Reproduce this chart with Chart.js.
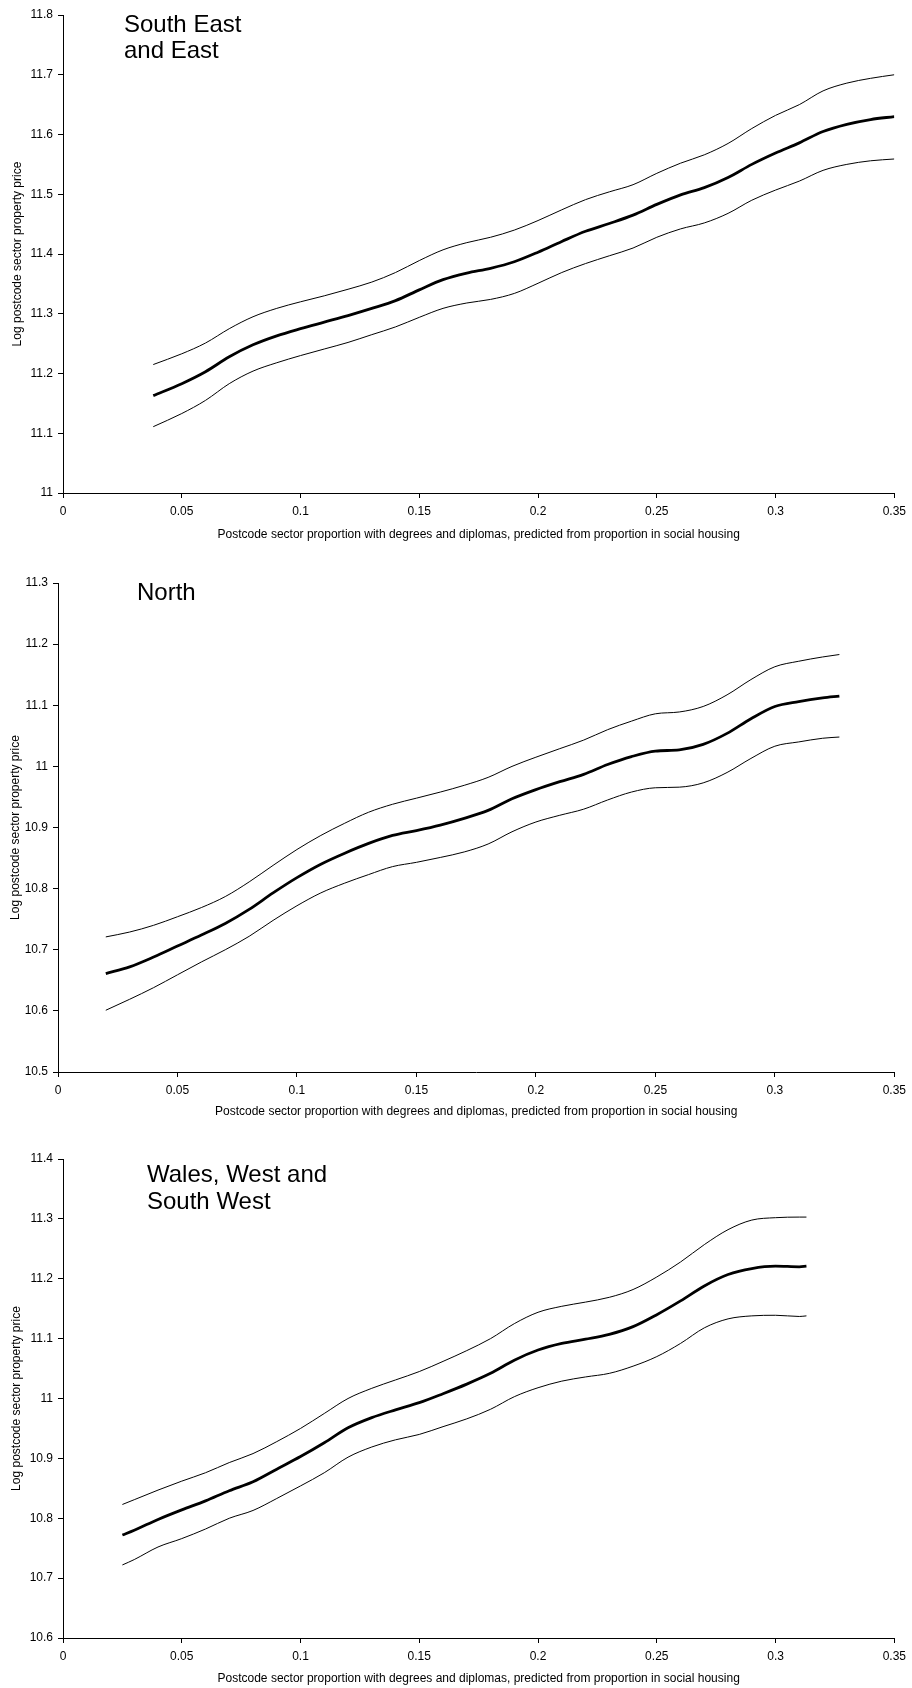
<!DOCTYPE html>
<html>
<head>
<meta charset="utf-8">
<script src="https://cdn.jsdelivr.net/npm/chart.js@4.4.1/dist/chart.umd.min.js"></script>
<style>
  html, body { margin: 0; padding: 0; background: #fff; }
  #page { position: relative; width: 912px; height: 1688px; }
  canvas { position: absolute; left: 0; }
</style>
</head>
<body>
<div id="page">
  <canvas id="southEast" width="912" height="560" style="top:0px"></canvas>
  <canvas id="north" width="912" height="565" style="top:560px"></canvas>
  <canvas id="wales" width="912" height="563" style="top:1125px"></canvas>
</div>
<script>
// South East and East
const seX = [0.038, 0.05, 0.06, 0.07, 0.08, 0.09, 0.10, 0.11, 0.12, 0.13, 0.14, 0.15, 0.16, 0.17, 0.18, 0.19,
  0.20, 0.21, 0.22, 0.23, 0.24, 0.25, 0.26, 0.27, 0.28, 0.29, 0.30, 0.31, 0.32, 0.33, 0.34, 0.35];
const seMid = [11.163, 11.183, 11.203, 11.228, 11.248, 11.263, 11.275, 11.286, 11.297, 11.309, 11.322, 11.340,
  11.357, 11.368, 11.376, 11.387, 11.403, 11.421, 11.438, 11.451, 11.465, 11.483, 11.499, 11.511, 11.528,
  11.550, 11.569, 11.586, 11.605, 11.617, 11.625, 11.630];
const seUpper = [11.215, 11.233, 11.251, 11.275, 11.295, 11.309, 11.320, 11.330, 11.341, 11.353, 11.369, 11.389,
  11.407, 11.419, 11.428, 11.440, 11.456, 11.474, 11.491, 11.504, 11.516, 11.535, 11.552, 11.566, 11.585,
  11.610, 11.632, 11.650, 11.673, 11.686, 11.694, 11.700];
const seLower = [11.111, 11.133, 11.155, 11.183, 11.204, 11.218, 11.230, 11.241, 11.252, 11.265, 11.278, 11.294,
  11.309, 11.318, 11.324, 11.334, 11.351, 11.369, 11.384, 11.397, 11.410, 11.428, 11.442, 11.452, 11.468,
  11.490, 11.507, 11.522, 11.540, 11.550, 11.556, 11.559];

// North
const nX = [0.02, 0.03, 0.04, 0.05, 0.06, 0.07, 0.08, 0.09, 0.10, 0.11, 0.12, 0.13, 0.14, 0.15, 0.16, 0.17,
  0.18, 0.19, 0.20, 0.21, 0.22, 0.23, 0.24, 0.25, 0.26, 0.27, 0.28, 0.29, 0.30, 0.31, 0.32, 0.327];
const nMid = [10.661, 10.672, 10.688, 10.706, 10.724, 10.743, 10.766, 10.793, 10.818, 10.840, 10.858, 10.874,
  10.887, 10.895, 10.904, 10.915, 10.928, 10.947, 10.962, 10.975, 10.987, 11.003, 11.016, 11.025, 11.027,
  11.036, 11.054, 11.078, 11.098, 11.106, 11.112, 11.115];
const nUpper = [10.721, 10.729, 10.740, 10.754, 10.769, 10.787, 10.811, 10.838, 10.864, 10.887, 10.907, 10.925,
  10.938, 10.948, 10.958, 10.969, 10.982, 11.000, 11.015, 11.029, 11.043, 11.060, 11.074, 11.086, 11.089,
  11.098, 11.117, 11.142, 11.163, 11.172, 11.179, 11.183];
const nLower = [10.601, 10.619, 10.638, 10.659, 10.680, 10.700, 10.722, 10.748, 10.772, 10.793, 10.809, 10.823,
  10.836, 10.843, 10.851, 10.860, 10.873, 10.893, 10.909, 10.920, 10.930, 10.945, 10.958, 10.965, 10.966,
  10.973, 10.990, 11.013, 11.033, 11.040, 11.046, 11.048];

// Wales, West and South West
const wX = [0.025, 0.03, 0.04, 0.05, 0.06, 0.07, 0.08, 0.09, 0.10, 0.11, 0.12, 0.13, 0.14, 0.15, 0.16, 0.17,
  0.18, 0.19, 0.20, 0.21, 0.22, 0.23, 0.24, 0.25, 0.26, 0.27, 0.28, 0.29, 0.30, 0.31, 0.313];
const wMid = [10.772, 10.780, 10.798, 10.814, 10.829, 10.846, 10.861, 10.882, 10.903, 10.926, 10.951, 10.968,
  10.981, 10.993, 11.008, 11.024, 11.042, 11.064, 11.081, 11.092, 11.099, 11.107, 11.120, 11.140, 11.163,
  11.188, 11.207, 11.217, 11.221, 11.220, 11.221];
const wUpper = [10.823, 10.831, 10.847, 10.862, 10.876, 10.893, 10.908, 10.928, 10.950, 10.975, 11.000, 11.017,
  11.031, 11.045, 11.062, 11.080, 11.100, 11.125, 11.144, 11.154, 11.161, 11.169, 11.182, 11.203, 11.228,
  11.257, 11.282, 11.298, 11.302, 11.303, 11.303];
const wLower = [10.722, 10.731, 10.752, 10.766, 10.782, 10.800, 10.813, 10.833, 10.854, 10.876, 10.902, 10.919,
  10.931, 10.940, 10.953, 10.966, 10.982, 11.003, 11.018, 11.029, 11.036, 11.042, 11.054, 11.070, 11.092,
  11.118, 11.133, 11.138, 11.139, 11.137, 11.138];

const xTitle = "Postcode sector proportion with degrees and diplomas, predicted from proportion in social housing";
const yTitle = "Log postcode sector property price";

Chart.defaults.font.family = "Arial, 'Liberation Sans', sans-serif";
Chart.defaults.font.size = 12;
Chart.defaults.color = "#000";

// big label in the top left of each panel
const panelTitle = {
  id: "panelTitle",
  afterDraw(chart, args, o) {
    const ctx = chart.ctx;
    ctx.save();
    ctx.font = "24px Arial, 'Liberation Sans', sans-serif";
    ctx.fillStyle = "#000";
    ctx.textBaseline = "alphabetic";
    o.lines.forEach((t, i) => ctx.fillText(t, o.x, o.y + i * o.gap));
    ctx.restore();
  }
};

function fmt(v) {
  return String(parseFloat(v.toFixed(2)));
}

function makeChart(id, xs, mid, upper, lower, yMin, yMax, box, label) {
  const canvas = document.getElementById(id);
  const pts = (ys) => xs.map((x, i) => ({ x: x, y: ys[i] }));
  const line = (ys, w) => ({
    data: pts(ys),
    borderColor: "#000",
    borderWidth: w,
    pointRadius: 0,
    cubicInterpolationMode: "monotone",
    fill: false
  });

  return new Chart(canvas, {
    type: "line",
    data: { datasets: [line(upper, 1), line(mid, 2.8), line(lower, 1)] },
    options: {
      responsive: false,
      animation: false,
      layout: { padding: { top: box.top, right: 912 - box.right, bottom: 0, left: 0 } },
      plugins: {
        legend: { display: false },
        tooltip: { enabled: false },
        panelTitle: label
      },
      scales: {
        x: {
          type: "linear",
          min: 0,
          max: 0.35,
          ticks: { stepSize: 0.05, padding: 6, callback: fmt, maxRotation: 0 },
          grid: { drawOnChartArea: false, tickLength: 5, color: "#000" },
          border: { color: "#000", width: 1 },
          title: { display: true, text: xTitle, padding: { top: 0, bottom: canvas.height - box.titleY - 7 } },
          afterFit: (s) => { s.height = canvas.height - box.bottom; }
        },
        y: {
          min: yMin,
          max: yMax,
          ticks: { stepSize: 0.1, padding: 5, callback: fmt },
          grid: { drawOnChartArea: false, tickLength: 5, color: "#000" },
          border: { color: "#000", width: 1 },
          title: { display: true, text: yTitle, padding: { top: box.yTitleX - 7, bottom: 0 } },
          afterFit: (s) => { s.width = box.left; }
        }
      }
    },
    plugins: [panelTitle]
  });
}

makeChart("southEast", seX, seMid, seUpper, seLower, 11, 11.8,
  { top: 15, bottom: 493, left: 63, right: 897, titleY: 535, yTitleX: 17 },
  { lines: ["South East", "and East"], x: 124, y: 32, gap: 26 });

makeChart("north", nX, nMid, nUpper, nLower, 10.5, 11.3,
  { top: 23, bottom: 512, left: 58, right: 898, titleY: 552, yTitleX: 15 },
  { lines: ["North"], x: 137, y: 40, gap: 26 });

makeChart("wales", wX, wMid, wUpper, wLower, 10.6, 11.4,
  { top: 34, bottom: 513, left: 63, right: 897, titleY: 554, yTitleX: 16 },
  { lines: ["Wales, West and", "South West"], x: 147, y: 57, gap: 27 });
</script>
</body>
</html>
